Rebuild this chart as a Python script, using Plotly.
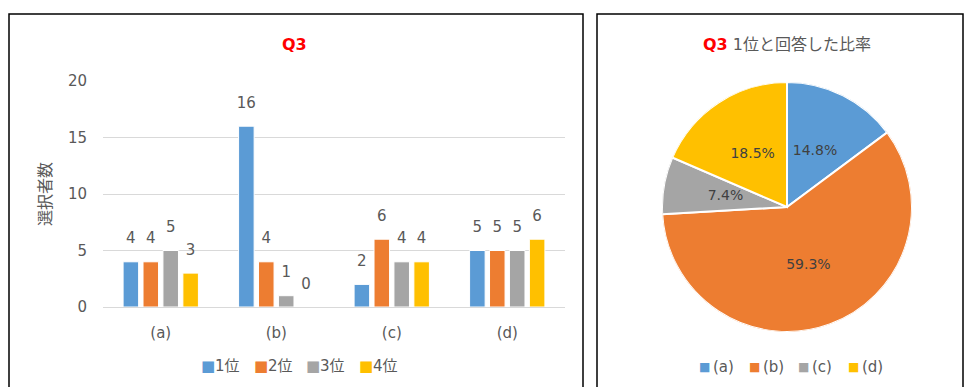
import plotly.graph_objects as go

W, H = 964, 387
categories = ["(a)", "(b)", "(c)", "(d)"]
series_names = ["1位", "2位", "3位", "4位"]
rank1 = [4, 16, 2, 5]
rank2 = [4, 4, 6, 5]
rank3 = [5, 1, 4, 5]
rank4 = [3, 0, 4, 6]
series_values = [rank1, rank2, rank3, rank4]
colors = ["#5B9BD5", "#ED7D31", "#A5A5A5", "#FFC000"]
y_ticks = [0, 5, 10, 15, 20]

FONT = "DejaVu Sans, Noto Sans CJK JP"
GRAY = "#595959"

def px(x):
    return x / W

def py(y):
    return 1 - y / H

fig = go.Figure()
for name, vals, c in zip(series_names, series_values, colors):
    fig.add_trace(go.Bar(
        x=categories, y=vals, name=name,
        marker=dict(color=c, line=dict(color="white", width=1)),
        showlegend=False,
    ))
# value labels, grouped like the bars
for name, vals in zip(series_names, series_values):
    fig.add_trace(go.Scatter(
        x=categories, y=vals, name=name, mode="markers+text",
        text=[str(v) for v in vals], textposition="top center",
        textfont=dict(color=GRAY, size=15, family=FONT),
        marker=dict(size=22, opacity=0), cliponaxis=False,
        showlegend=False, hoverinfo="skip",
    ))

# pie (Q3 1位) drawn on a polar subplot
total = sum(rank1)
angles = [v / total * 360 for v in rank1]
mids = []
acc = 0
for a in angles:
    mids.append(acc + a / 2)
    acc += a
fig.add_trace(go.Barpolar(
    theta=mids, r=[1] * len(rank1), width=angles,
    marker=dict(color=colors, line=dict(color="white", width=2)),
    showlegend=False, hoverinfo="skip",
))
fig.add_trace(go.Scatterpolar(
    theta=mids, r=[0.5] * len(rank1), mode="text",
    text=[f"{v / total:.1%}" for v in rank1],
    textfont=dict(color="#404040", size=14, family=FONT),
    showlegend=False, hoverinfo="skip",
))

annotations = [
    dict(text="<b>Q3</b>", x=px(294), y=py(44), xref="paper", yref="paper",
         xanchor="center", yanchor="middle", showarrow=False,
         font=dict(size=16, color="#FF0000", family=FONT)),
    dict(text="<b><span style='color:#FF0000'>Q3</span></b> 1位と回答した比率",
         x=px(787), y=py(44), xref="paper", yref="paper", xanchor="center",
         yanchor="middle", showarrow=False, font=dict(size=16, color=GRAY, family=FONT)),
]

# custom legends (colored squares + labels)
def add_legend(names, start_x, step, y, sq_size, txt_size, gap):
    for i, (n, c) in enumerate(zip(names, colors)):
        x0 = start_x + i * step
        annotations.append(dict(text="■", x=px(x0), y=py(y), xref="paper", yref="paper",
                                xanchor="left", yanchor="middle", showarrow=False,
                                font=dict(size=sq_size, color=c, family="DejaVu Sans")))
        annotations.append(dict(text=n, x=px(x0 + gap), y=py(y), xref="paper", yref="paper",
                                xanchor="left", yanchor="middle", showarrow=False,
                                font=dict(size=txt_size, color=GRAY, family=FONT)))

add_legend(series_names, 199, 52.5, 366, 15, 15, 14)
add_legend(categories, 697, 49.5, 367, 12, 15, 14)

fig.update_layout(
    width=W, height=H,
    margin=dict(l=0, r=0, t=0, b=0, autoexpand=False),
    paper_bgcolor="white", plot_bgcolor="white",
    font=dict(family=FONT, color=GRAY, size=14),
    barmode="group", bargap=0.31, bargroupgap=0.22,
    scattermode="group", scattergap=0.31,
    showlegend=False,
    xaxis=dict(domain=[px(103), px(565)], showgrid=False, showline=True,
               linecolor="#D9D9D9", linewidth=1, ticks="",
               tickfont=dict(size=15, color=GRAY), ticklabelstandoff=12),
    yaxis=dict(domain=[py(307), py(81)], range=[0, 20], tickvals=y_ticks,
               gridcolor="#D9D9D9", gridwidth=1, zeroline=False, showline=False,
               tickfont=dict(size=15, color=GRAY), ticklabelstandoff=15,
               title=dict(text="選択者数", font=dict(size=16, color=GRAY,
                                                   family="Noto Sans CJK JP"), standoff=12)),
    polar=dict(
        domain=dict(x=[px(662), px(912)], y=[py(332), py(82)]),
        bgcolor="rgba(0,0,0,0)", hole=0,
        radialaxis=dict(range=[0, 1], visible=False, showgrid=False, showline=False,
                        showticklabels=False, ticks=""),
        angularaxis=dict(rotation=90, direction="clockwise", visible=False,
                         showgrid=False, showline=False, showticklabels=False, ticks=""),
    ),
    annotations=annotations,
    shapes=[
        dict(type="rect", xref="paper", yref="paper", x0=px(9), x1=px(583),
             y0=-0.2, y1=py(14), line=dict(color="black", width=1.5)),
        dict(type="rect", xref="paper", yref="paper", x0=px(597), x1=px(963),
             y0=-0.2, y1=py(14), line=dict(color="black", width=1.5)),
    ],
)

fig.write_html("out.html")
